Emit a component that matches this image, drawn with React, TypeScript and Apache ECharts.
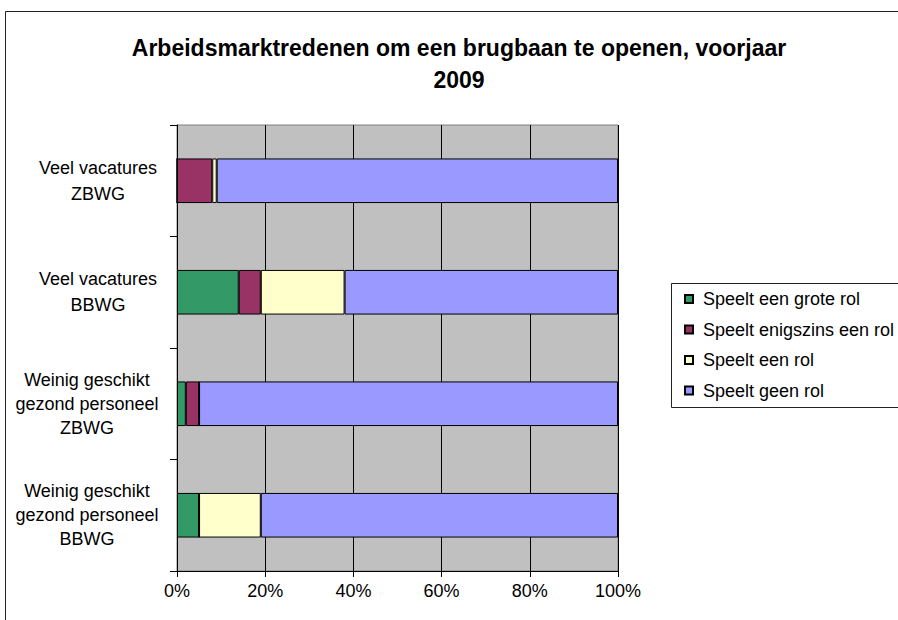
import React, { useEffect, useRef } from "react";
import * as echarts from "echarts";

const TITLE = "Arbeidsmarktredenen om een brugbaan te openen, voorjaar\n2009";
const categories = [
  "Veel vacatures\nZBWG",
  "Veel vacatures\nBBWG",
  "Weinig geschikt\ngezond personeel\nZBWG",
  "Weinig geschikt\ngezond personeel\nBBWG",
];
const seriesNames = [
  "Speelt een grote rol",
  "Speelt enigszins een rol",
  "Speelt een rol",
  "Speelt geen rol",
];
const grote = [0, 14, 2, 5];
const enigszins = [8, 5, 3, 0];
const eenRol = [1, 19, 0, 14];
const geenRol = [91, 62, 95, 81];
const xTicks = [0, 20, 40, 60, 80, 100];

const colors = ["#339966", "#993366", "#FFFFCC", "#9999FF"];
const FONT = "'Liberation Sans', Arial, sans-serif";

export default function App() {
  const ref = useRef<HTMLDivElement>(null);
  useEffect(() => {
    document.body.style.margin = "0";
    const chart = echarts.init(ref.current!, null, { renderer: "svg" });
    const values = [grote, enigszins, eenRol, geenRol];
    chart.setOption({
      animation: false,
      backgroundColor: "#ffffff",
      textStyle: { fontFamily: FONT },
      title: {
        text: TITLE,
        left: 454,
        top: 27,
        textAlign: "center",
        textStyle: {
          fontFamily: FONT,
          fontSize: 23,
          fontWeight: "bold",
          color: "#000",
          lineHeight: 32,
        },
      },
      legend: {
        orient: "vertical",
        left: 684,
        top: 289,
        padding: 0,
        icon: "rect",
        itemWidth: 8,
        itemHeight: 8,
        itemGap: 10.5,
        data: seriesNames,
        textStyle: {
          fontFamily: FONT,
          fontSize: 18,
          lineHeight: 20,
          color: "#000",
          padding: [0, 0, 0, 5],
        },
      },
      graphic: [
        {
          type: "rect",
          shape: { x: 5.5, y: 11.5, width: 1000, height: 1000 },
          style: { fill: "none", stroke: "#222", lineWidth: 1 },
          silent: true,
        },
        {
          type: "rect",
          shape: { x: 671.5, y: 283.5, width: 300, height: 124 },
          style: { fill: "none", stroke: "#222", lineWidth: 1 },
          silent: true,
        },
      ],
      grid: {
        left: 177,
        top: 125,
        right: 280,
        bottom: 49,
        show: true,
        backgroundColor: "#C0C0C0",
        borderColor: "#808080",
        borderWidth: 1,
      },
      xAxis: {
        type: "value",
        min: xTicks[0],
        max: xTicks[xTicks.length - 1],
        interval: 20,
        axisLine: { show: true, lineStyle: { color: "#000", width: 1 } },
        axisTick: { show: true, length: 6, lineStyle: { color: "#000" } },
        splitLine: { show: true, lineStyle: { color: "#000", width: 1 } },
        axisLabel: {
          formatter: "{value}%",
          fontFamily: FONT,
          fontSize: 18,
          color: "#000",
          margin: 11,
        },
      },
      yAxis: {
        type: "category",
        inverse: true,
        data: categories,
        axisLine: { show: true, lineStyle: { color: "#000", width: 1 } },
        axisTick: { show: true, length: 7, lineStyle: { color: "#000" } },
        splitLine: { show: false },
        axisLabel: {
          align: "center",
          margin: 79,
          color: "#000",
          fontFamily: FONT,
          fontSize: 18,
          lineHeight: 24,
          formatter: (v: string) => {
            const style = v.startsWith("Weinig") ? "w" : "v";
            return v
              .split("\n")
              .map((l) => `{${style}|${l}}`)
              .join("\n");
          },
          rich: {
            v: { fontFamily: FONT, fontSize: 18, lineHeight: 26, color: "#000" },
            w: {
              fontFamily: FONT,
              fontSize: 18,
              lineHeight: 24,
              color: "#000",
              padding: [0, 22, 0, 0],
            },
          },
        },
      },
      series: seriesNames.map((name, i) => ({
        name,
        type: "bar",
        stack: "total",
        barCategoryGap: "60%",
        data: values[i],
        itemStyle: { color: colors[i], borderColor: "#000", borderWidth: 1 },
      })),
    });
    return () => chart.dispose();
  }, []);
  return <div ref={ref} style={{ width: 898, height: 620 }} />;
}
